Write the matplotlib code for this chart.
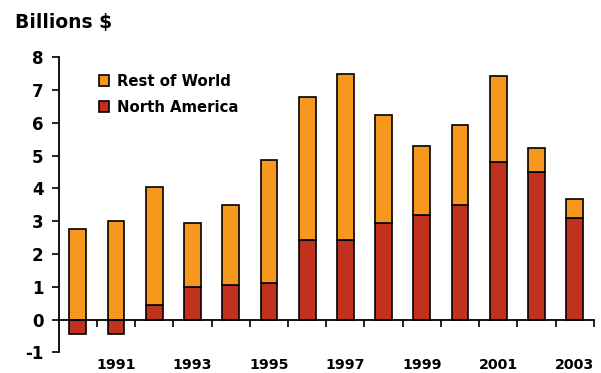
import matplotlib
matplotlib.use("Agg")
import matplotlib.pyplot as plt
from matplotlib.patches import Patch
from matplotlib.transforms import blended_transform_factory
import numpy as np

plt.rcParams['font.family'] = ['DejaVu Sans']

years = [1990, 1991, 1992, 1993, 1994, 1995, 1996, 1997, 1998, 1999, 2000, 2001, 2002, 2003]
north_america = [-0.44, -0.44, 0.43, 1.00, 1.05, 1.12, 2.43, 2.43, 2.94, 3.19, 3.49, 4.80, 4.49, 3.11]
rest_of_world = [2.75, 3.00, 3.62, 1.93, 2.45, 3.75, 4.37, 5.06, 3.30, 2.11, 2.43, 2.63, 0.74, 0.57]
year_labels = ['1991', '1993', '1995', '1997', '1999', '2001', '2003']

orange = '#F6981E'
red = '#C0321D'
W = 'bold'

fig = plt.figure(figsize=(6.01, 3.73), dpi=100)
ax = fig.add_axes([0.0977, 0.0555, 0.8903, 0.7909])

x = np.arange(len(years))
na = np.array(north_america)
row = np.array(rest_of_world)
bottom_row = np.clip(na, 0, None)

bw = 0.44
ax.bar(x, na, width=bw, color=red, edgecolor='black', linewidth=1.2, zorder=3)
ax.bar(x, row, width=bw, bottom=bottom_row, color=orange, edgecolor='black', linewidth=1.2, zorder=3)

ax.set_xlim(-0.5, 13.5)
ax.set_ylim(-1, 8)
ax.set_yticks(range(-1, 9))
ax.set_yticklabels([str(v) for v in range(-1, 9)], fontsize=12, fontweight=W)
ax.tick_params(axis='y', direction='out', length=5, width=1.2, pad=6)

for s in ['top', 'right']:
    ax.spines[s].set_visible(False)
ax.spines['left'].set_linewidth(1.3)
ax.spines['bottom'].set_position(('data', 0))
ax.spines['bottom'].set_linewidth(1.3)
ax.spines['bottom'].set_zorder(4)

# ticks between categories on the zero line
ax.set_xticks(np.arange(0.5, 14.0, 1.0))
ax.set_xticklabels([])
ax.tick_params(axis='x', direction='out', length=5, width=1.2)

trans = blended_transform_factory(ax.transData, ax.transData)
for lab in year_labels:
    xi = years.index(int(lab))
    ax.text(xi, -1.38, lab, transform=trans, ha='center', va='center',
            fontsize=10.2, fontweight=W, clip_on=False)

handles = [Patch(facecolor=orange, edgecolor='black', linewidth=1.2, label='Rest of World'),
           Patch(facecolor=red, edgecolor='black', linewidth=1.2, label='North America')]
leg = ax.legend(handles=handles, loc='upper left', bbox_to_anchor=(0.05, 0.99),
                frameon=False, handlelength=0.7, handleheight=0.7, handletextpad=0.5,
                labelspacing=0.75, prop={'weight': W, 'size': 10.7})

fig.text(0.025, 0.94, 'Billions $', fontsize=13.5, fontweight=W, ha='left', va='center')

fig.savefig('out.png', dpi=100)
